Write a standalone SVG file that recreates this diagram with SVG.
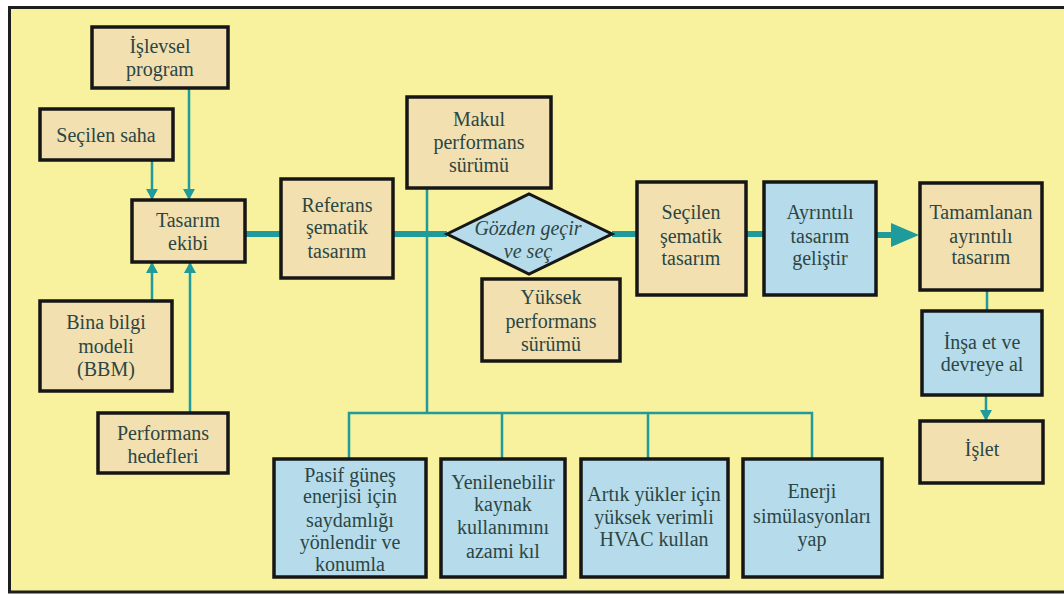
<svg xmlns="http://www.w3.org/2000/svg" width="1064" height="596" viewBox="0 0 1064 596" font-family="Liberation Serif, Times New Roman, serif">
<style>
.bg{fill:#f8f19e}
.frame{fill:none;stroke:#1c1f1e;stroke-width:3}
.tan{fill:#f2e0b0;stroke:#161616;stroke-width:3.5}
.blue{fill:#b6dcec;stroke:#161616;stroke-width:3.5}
.t{font-size:20px;fill:#2c4644;text-anchor:middle}
.it{font-style:italic}
.thin{fill:none;stroke:#1f9b9c;stroke-width:2.5}
.thick{fill:none;stroke:#1f9b9c;stroke-width:6}
</style>
<defs>
<marker id="ah" markerUnits="userSpaceOnUse" markerWidth="12" markerHeight="12" refX="11" refY="6" orient="auto">
<path d="M0,0 L11,6 L0,12 z" fill="#1f9b9c"/>
</marker>
</defs>
<rect x="0" y="0" width="1064" height="596" fill="#ffffff"/>
<rect class="bg" x="10" y="8" width="1060" height="583"/>
<rect class="frame" x="9.5" y="7.5" width="1070" height="584.5"/>

<g id="connectors">
<line class="thin" x1="189" y1="88" x2="189" y2="200" marker-end="url(#ah)"/>
<line class="thin" x1="152" y1="160" x2="152" y2="200" marker-end="url(#ah)"/>
<line class="thin" x1="152" y1="301" x2="152" y2="262" marker-end="url(#ah)"/>
<line class="thin" x1="190" y1="413" x2="190" y2="262" marker-end="url(#ah)"/>
<line class="thick" x1="245" y1="234" x2="281" y2="234"/>
<line class="thick" x1="393" y1="234" x2="447" y2="234"/>
<line class="thick" x1="612" y1="234" x2="637" y2="234"/>
<line class="thick" x1="746" y1="234" x2="764" y2="234"/>
<line class="thick" x1="876" y1="235" x2="895" y2="235"/>
<path d="M891,223 L919,235 L891,247 z" fill="#1f9b9c"/>
<line class="thin" x1="987" y1="290" x2="987" y2="311"/>
<line class="thin" x1="986" y1="395" x2="986" y2="421" marker-end="url(#ah)"/>
<line class="thin" x1="427" y1="188" x2="427" y2="413"/>
<polyline class="thin" points="349,459 349,413 812,413 812,459"/>
<line class="thin" x1="502" y1="413" x2="502" y2="459"/>
<line class="thin" x1="648" y1="413" x2="648" y2="459"/>
</g>

<g id="islevsel-program" font-family="Liberation Serif, serif">
<rect class="tan" x="92" y="27" width="136" height="61"/>
<text class="t" x="160" y="53">İşlevsel</text>
<text class="t" x="160" y="76">program</text>
</g>
<g id="secilen-saha" font-family="Liberation Serif, serif">
<rect class="tan" x="40" y="109" width="133" height="51"/>
<text class="t" x="106" y="142">Seçilen saha</text>
</g>
<g id="tasarim-ekibi" font-family="Liberation Serif, serif">
<rect class="tan" x="132" y="200" width="113" height="62"/>
<text class="t" x="188" y="227">Tasarım</text>
<text class="t" x="188" y="250">ekibi</text>
</g>
<g id="bina-bilgi-modeli" font-family="Liberation Serif, serif">
<rect class="tan" x="40" y="301" width="132" height="90"/>
<text class="t" x="106" y="329">Bina bilgi</text>
<text class="t" x="106" y="353">modeli</text>
<text class="t" x="106" y="376">(BBM)</text>
</g>
<g id="performans-hedefleri" font-family="Liberation Serif, serif">
<rect class="tan" x="98" y="413" width="130" height="60"/>
<text class="t" x="163" y="440">Performans</text>
<text class="t" x="163" y="463">hedefleri</text>
</g>
<g id="referans-sematik-tasarim" font-family="Liberation Serif, serif">
<rect class="tan" x="281" y="179" width="112" height="99"/>
<text class="t" x="337" y="212">Referans</text>
<text class="t" x="337" y="234">şematik</text>
<text class="t" x="337" y="258">tasarım</text>
</g>
<g id="makul-performans" font-family="Liberation Serif, serif">
<rect class="tan" x="407" y="97" width="144" height="91"/>
<text class="t" x="479" y="126">Makul</text>
<text class="t" x="479" y="149">performans</text>
<text class="t" x="479" y="172">sürümü</text>
</g>
<g id="gozden-gecir" font-family="Liberation Serif, serif">
<polygon points="447,234 529,194 612,234 529,274" fill="#b6dcec" stroke="#161616" stroke-width="3"/>
<text class="t it" x="528" y="235">Gözden geçir</text>
<text class="t it" x="528" y="258">ve seç</text>
</g>
<g id="yuksek-performans" font-family="Liberation Serif, serif">
<rect class="tan" x="482" y="279" width="138" height="82"/>
<text class="t" x="551" y="304">Yüksek</text>
<text class="t" x="551" y="328">performans</text>
<text class="t" x="551" y="351">sürümü</text>
</g>
<g id="secilen-sematik-tasarim" font-family="Liberation Serif, serif">
<rect class="tan" x="637" y="182" width="109" height="113"/>
<text class="t" x="691" y="219">Seçilen</text>
<text class="t" x="691" y="243">şematik</text>
<text class="t" x="691" y="265">tasarım</text>
</g>
<g id="ayrintili-tasarim-gelistir" font-family="Liberation Serif, serif">
<rect class="blue" x="764" y="182" width="112" height="113"/>
<text class="t" x="820" y="219">Ayrıntılı</text>
<text class="t" x="820" y="243">tasarım</text>
<text class="t" x="820" y="265">geliştir</text>
</g>
<g id="tamamlanan-ayrintili-tasarim" font-family="Liberation Serif, serif">
<rect class="tan" x="920" y="183" width="122" height="107"/>
<text class="t" x="981" y="219">Tamamlanan</text>
<text class="t" x="981" y="243">ayrıntılı</text>
<text class="t" x="981" y="264">tasarım</text>
</g>
<g id="insa-et" font-family="Liberation Serif, serif">
<rect class="blue" x="922" y="311" width="120" height="84"/>
<text class="t" x="982" y="349">İnşa et ve</text>
<text class="t" x="982" y="371">devreye al</text>
</g>
<g id="islet" font-family="Liberation Serif, serif">
<rect class="tan" x="920" y="421" width="123" height="62"/>
<text class="t" x="982" y="456">İşlet</text>
</g>
<g id="pasif-gunes" font-family="Liberation Serif, serif">
<rect class="blue" x="274" y="459" width="152" height="118"/>
<text class="t" x="350" y="482">Pasif güneş</text>
<text class="t" x="350" y="503">enerjisi için</text>
<text class="t" x="350" y="527">saydamlığı</text>
<text class="t" x="350" y="549">yönlendir ve</text>
<text class="t" x="350" y="571">konumla</text>
</g>
<g id="yenilenebilir" font-family="Liberation Serif, serif">
<rect class="blue" x="441" y="459" width="124" height="118"/>
<text class="t" x="503" y="489">Yenilenebilir</text>
<text class="t" x="503" y="511">kaynak</text>
<text class="t" x="503" y="534">kullanımını</text>
<text class="t" x="503" y="558">azami kıl</text>
</g>
<g id="artik-yukler" font-family="Liberation Serif, serif">
<rect class="blue" x="581" y="459" width="147" height="118"/>
<text class="t" x="654" y="501">Artık yükler için</text>
<text class="t" x="654" y="524">yüksek verimli</text>
<text class="t" x="654" y="546">HVAC kullan</text>
</g>
<g id="enerji-simulasyonlari" font-family="Liberation Serif, serif">
<rect class="blue" x="743" y="459" width="139" height="118"/>
<text class="t" x="812" y="498">Enerji</text>
<text class="t" x="812" y="523">simülasyonları</text>
<text class="t" x="812" y="546">yap</text>
</g>
</svg>
